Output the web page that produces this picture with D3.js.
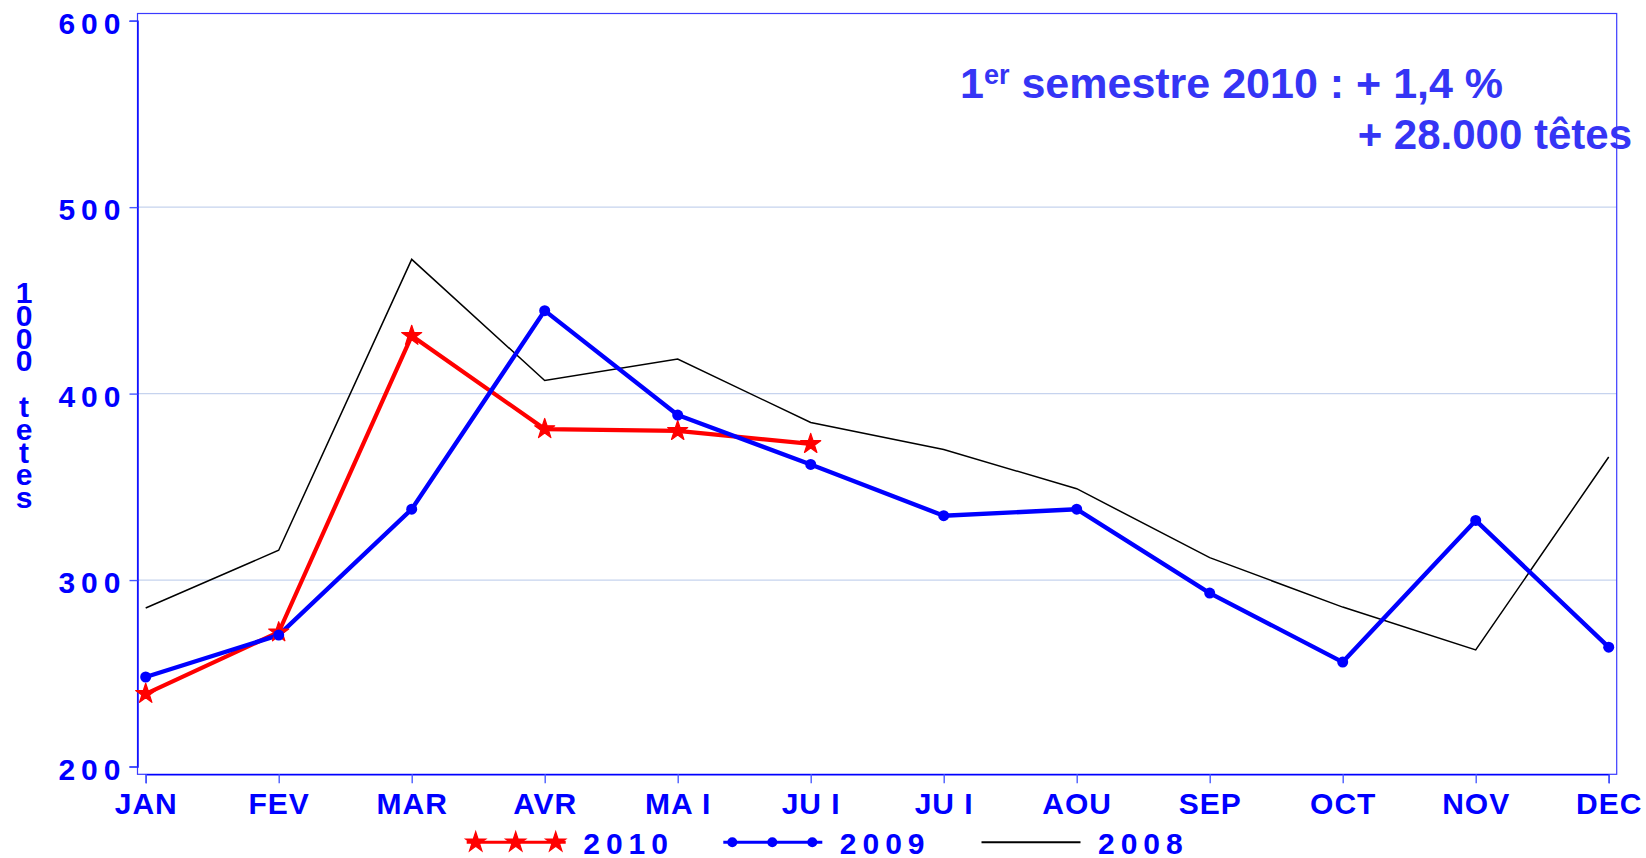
<!DOCTYPE html>
<html>
<head>
<meta charset="utf-8">
<script src="https://cdn.jsdelivr.net/npm/d3@7"></script>
<style>
  body { margin: 0; background: #fff; }
  svg { display: block; font-family: "Liberation Sans", Arial, sans-serif; font-weight: bold; }
</style>
</head>
<body>
<svg id="chart" width="1646" height="858"></svg>
<script>
// ─── DONNÉES ────────────────────────────────────────────────────────────────
const months = ["JAN", "FEV", "MAR", "AVR", "MA I", "JU I", "JU I", "AOU", "SEP", "OCT", "NOV", "DEC"];
const yTicks = [200, 300, 400, 500, 600];
const gridTicks = [300, 400, 500];
const values2010 = [239, 272, 431, 381, 380, 373];
const values2009 = [248, 270.5, 338, 444.5, 388.5, 362, 334.5, 338, 293, 256, 332, 264];
const values2008 = [285, 316, 472, 407, 418.5, 384.5, 370, 349, 312, 285.5, 262.5, 366];
const seriesNames = ["2010", "2009", "2008"];
const yTitle = ["1", "0", "0", "0", " ", "t", "e", "t", "e", "s"];
const noteLine1 = ["1", "er", " semestre 2010 : + 1,4 %"];
const noteLine2 = "+ 28.000 têtes";

// ─── MISE EN PAGE ───────────────────────────────────────────────────────────
const BLUE = "#0000ff";
const RED = "#ff0000";
const plot = { left: 137.5, right: 1616.7, top: 13.5, bottom: 774.3 };

const svg = d3.select("#chart");

const x = d3.scaleLinear().domain([0, 11]).range([145.7, 1608.7]);
const y = d3.scaleLinear().domain([200, 600]).range([766.5, 20.7]);

// Grille
svg.append("g")
    .selectAll("line")
    .data(gridTicks)
    .join("line")
    .attr("x1", plot.left).attr("x2", plot.right)
    .attr("y1", d => y(d)).attr("y2", d => y(d))
    .attr("stroke", "#c6d3ee").attr("stroke-width", 1.3);

// Cadre
svg.append("rect")
    .attr("x", plot.left).attr("y", plot.top)
    .attr("width", plot.right - plot.left).attr("height", plot.bottom - plot.top)
    .attr("fill", "none").attr("stroke", "#3b3bff").attr("stroke-width", 1.2);

// Axe Y
svg.append("g")
    .attr("transform", `translate(${plot.left},0)`)
    .call(d3.axisLeft(y).tickValues(yTicks).tickSize(8).tickPadding(3).tickFormat(d3.format("d")))
    .call(g => g.select(".domain").attr("stroke", BLUE).attr("stroke-width", 1.4))
    .call(g => g.selectAll(".tick line").attr("stroke", "#4a5cff").attr("stroke-width", 1.4))
    .call(g => g.selectAll("text")
        .attr("dy", 12.5)
        .attr("fill", BLUE)
        .style("font-size", "30px")
        .style("letter-spacing", "6px"));

// Axe X
svg.append("g")
    .attr("transform", `translate(0,${plot.bottom})`)
    .call(d3.axisBottom(x).tickValues(d3.range(12)).tickSize(9).tickFormat(i => months[i]))
    .call(g => g.select(".domain").attr("stroke", BLUE).attr("stroke-width", 1.4))
    .call(g => g.selectAll(".tick line").attr("stroke", "#4a5cff").attr("stroke-width", 1.4))
    .call(g => g.selectAll("text")
        .attr("y", 40).attr("dy", 0)
        .attr("fill", BLUE)
        .style("font-size", "30px")
        .style("letter-spacing", "1px"));

// Titre axe Y (lettres empilées)
svg.append("g")
    .selectAll("text")
    .data(yTitle)
    .join("text")
    .attr("x", 24)
    .attr("y", (d, i) => 303 + i * 22.8)
    .attr("text-anchor", "middle")
    .attr("fill", BLUE)
    .style("font-size", "30px")
    .text(d => d);

// ─── COURBES ────────────────────────────────────────────────────────────────
const line = d3.line().x((d, i) => x(i)).y(d => y(d));
const star = d3.symbol(d3.symbolStar, 125);

svg.append("path").datum(values2008).attr("d", line)
    .attr("fill", "none").attr("stroke", "#000").attr("stroke-width", 1.5);

svg.append("path").datum(values2010).attr("d", line)
    .attr("fill", "none").attr("stroke", RED).attr("stroke-width", 4.2)
    .attr("stroke-linejoin", "round");

svg.append("path").datum(values2009).attr("d", line)
    .attr("fill", "none").attr("stroke", BLUE).attr("stroke-width", 4.4)
    .attr("stroke-linejoin", "round");

svg.append("g").selectAll("path")
    .data(values2010)
    .join("path")
    .attr("d", star)
    .attr("transform", (d, i) => `translate(${x(i)},${y(d)})`)
    .attr("fill", RED).attr("stroke", RED).attr("stroke-width", 1.2)
    .attr("stroke-linejoin", "round");

svg.append("g").selectAll("circle")
    .data(values2009)
    .join("circle")
    .attr("cx", (d, i) => x(i)).attr("cy", d => y(d))
    .attr("r", 5.5)
    .attr("fill", BLUE);

// ─── LÉGENDE ────────────────────────────────────────────────────────────────
const legendX = [466.7, 723.3, 981.5];
const legendY = 842.3;
seriesNames.forEach((name, k) => {
    const g = svg.append("g").attr("transform", `translate(${legendX[k]},${legendY})`);
    const color = k === 0 ? RED : k === 1 ? BLUE : "#000";
    g.append("line").attr("x1", 0).attr("x2", 99).attr("y1", 0).attr("y2", 0)
        .attr("stroke", color).attr("stroke-width", k === 2 ? 2 : 3);
    [9, 49, 89].forEach(mx => {
        if (k === 0) {
            g.append("path").attr("d", star).attr("transform", `translate(${mx},0)`)
                .attr("fill", color).attr("stroke", color).attr("stroke-width", 1.2);
        } else if (k === 1) {
            g.append("circle").attr("cx", mx).attr("r", 5).attr("fill", color);
        }
    });
    g.append("text")
        .attr("x", 116.5).attr("y", 11.7)
        .attr("fill", BLUE)
        .style("font-size", "30px")
        .style("letter-spacing", "6px")
        .text(name);
});

// ─── ANNOTATION ─────────────────────────────────────────────────────────────
const note = svg.append("text")
    .attr("x", 960).attr("y", 98)
    .attr("fill", "#3535f5")
    .style("font-size", "43px");
note.append("tspan").text(noteLine1[0]);
note.append("tspan").attr("dy", -14).style("font-size", "27px").text(noteLine1[1]);
note.append("tspan").attr("dy", 14).text(noteLine1[2]);

svg.append("text")
    .attr("x", 1632).attr("y", 149)
    .attr("text-anchor", "end")
    .attr("fill", "#3535f5")
    .style("font-size", "42px")
    .text(noteLine2);
</script>
</body>
</html>
